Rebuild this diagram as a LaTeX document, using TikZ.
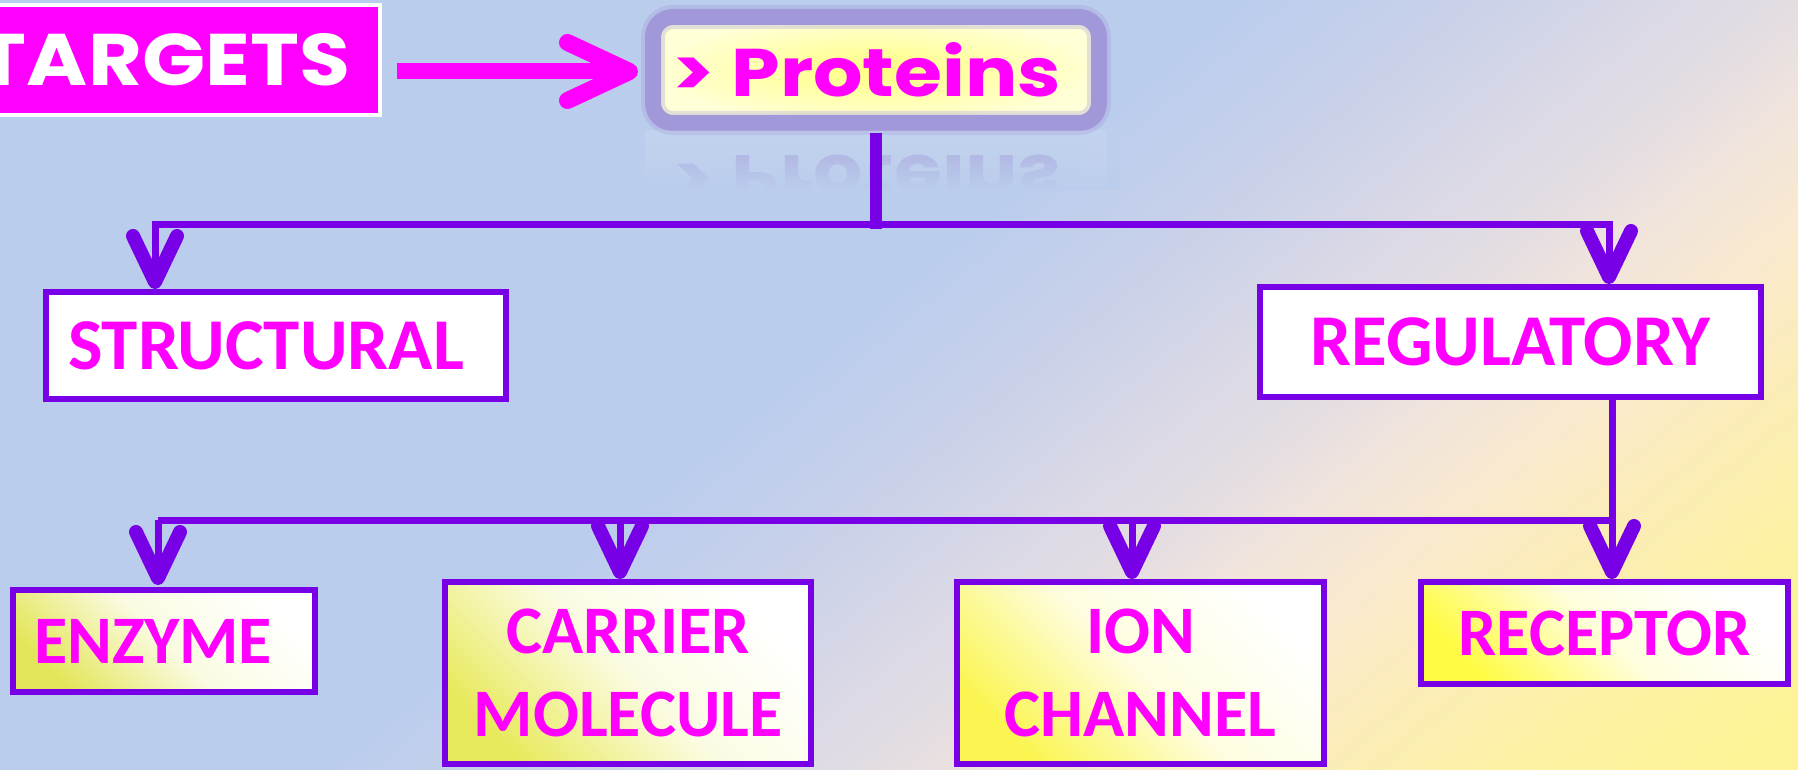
\documentclass[tikz,border=0pt]{standalone}
\usepackage{fontspec}
\usetikzlibrary{arrows.meta,fadings}
\newfontfamily\calib{Carlito}
\newfontfamily\deco{Poppins}
\definecolor{purp}{RGB}{119,0,230}
\definecolor{mag}{RGB}{255,0,255}
\definecolor{lav}{RGB}{160,152,216}
\definecolor{bgA}{RGB}{187,205,237}
\definecolor{bgB}{RGB}{201,209,233}
\definecolor{bgC}{RGB}{220,218,229}
\definecolor{bgD}{RGB}{228,221,226}
\definecolor{bgE}{RGB}{240,228,220}
\definecolor{bgF}{RGB}{249,233,208}
\definecolor{bgG}{RGB}{251,236,185}
\definecolor{bgH}{RGB}{252,240,164}
\definecolor{bgY}{RGB}{253,242,150}
\definecolor{ylwA}{RGB}{227,230,90}
\definecolor{ylwB}{RGB}{232,234,94}
\definecolor{ylwC}{RGB}{250,245,80}
\definecolor{ylwD}{RGB}{255,251,69}
\definecolor{pyIn}{RGB}{255,255,128}
\definecolor{pyOut}{RGB}{255,255,215}
\pgfdeclarehorizontalshading{bgshade}{100bp}{color(0bp)=(bgA); color(48bp)=(bgA); color(52bp)=(bgB); color(56bp)=(bgC); color(58bp)=(bgD); color(60bp)=(bgE); color(62.5bp)=(bgF); color(65.5bp)=(bgG); color(69bp)=(bgH); color(73bp)=(bgY); color(100bp)=(bgY)}
\tikzset{
  box/.style={draw=purp, line width=6.5pt, fill=white, outer sep=0pt, inner sep=0pt, text=mag, align=center},
  toptext/.style={font=\calib\bfseries\fontsize{73}{89}\selectfont},
  bottext/.style={font=\calib\bfseries\fontsize{68}{83}\selectfont},
  ybox/.style={box, bottom color=#1, top color=white, middle color=#1!18!white, shading angle=-45},
  conn/.style={draw=purp, line width=7pt},
  arr/.style={conn, -{Straight Barb[length=46pt, width=44pt, line width=14pt, round]}},
}
\begin{document}
\begin{tikzpicture}[x=1pt,y=-1pt]
\useasboundingbox (0,0) rectangle (1798,770);
% background
\begin{scope}
\clip (0,0) rectangle (1798,770);
\shade[shading=bgshade, shading angle=-50] (0,-514) rectangle (1798,1284);
\end{scope}

% TARGETS
\node[draw=white, line width=4pt, fill=mag, minimum width=432pt, minimum height=110pt,
      inner sep=0pt, outer sep=0pt, text=white] (targets) at (164,60)
      {\resizebox{372pt}{52pt}{\deco\bfseries TARGETS}};

% Proteins
\node[draw=lav, line width=16pt, rounded corners=20pt, inner color=pyIn, outer color=pyOut,
      minimum width=446pt, minimum height=106pt, inner sep=0pt, outer sep=0pt, text=mag]
      (proteins) at (876,70) {\resizebox{388pt}{54pt}{\deco\bfseries > Proteins}\hspace*{18pt}};
\draw[lav, line width=24pt, opacity=0.3, rounded corners=20pt]
      (proteins.south west) rectangle (proteins.north east);

% reflection
\begin{scope}
\clip (640,129) rectangle (1112,190);
\fill[white, opacity=0.1] (645,130) rectangle (1107,190);
\node[text=lav, text opacity=0.5, inner sep=0pt, outer sep=0pt, anchor=north] (refl) at (867,155)
      {\scalebox{1}[-1]{\resizebox{388pt}{54pt}{\deco\bfseries > Proteins}}};
\end{scope}
\fill[bgA, path fading=north] (630,146) rectangle (1120,190);

% boxes
\node[box, toptext, minimum width=460pt, minimum height=107pt] (structural) at (276,345.5) {STRUCTURAL\hspace*{20pt}};
\node[box, toptext, minimum width=501pt, minimum height=110pt] (regulatory) at (1510.5,342) {REGULATORY};
\node[ybox=ylwA, bottext, minimum width=302pt, minimum height=102pt] (enzyme) at (164,641) {ENZYME\hspace*{22pt}};
\node[ybox=ylwB, bottext, minimum width=366pt, minimum height=182pt] (carrier) at (628,673) {CARRIER\\MOLECULE};
\node[ybox=ylwC, bottext, minimum width=367pt, minimum height=182pt] (ion) at (1140.5,673) {ION\\CHANNEL};
\node[ybox=ylwD, bottext, minimum width=367pt, minimum height=102pt] (receptor) at (1604.5,633) {RECEPTOR};

% coordinates
\coordinate (stemend) at (876,229);
\coordinate (hub) at (876,224);
\coordinate (tl) at (155,224);
\coordinate (tr) at (1609,224);
\coordinate (br) at (1612,520);
\coordinate (bl) at (158,520);
\coordinate (bc) at (620,520);
\coordinate (bi) at (1132,520);

% connectors
\draw[mag, line width=16pt, shorten <=17pt, shorten >=15pt,
      -{Straight Barb[length=62pt, width=58pt, line width=17pt, round]}]
      ([yshift=-11.5pt]targets.east) -- ([yshift=-1.5pt]proteins.west);
\draw[conn, line width=12pt, shorten <=10pt] (proteins.south) -- (stemend);
\draw[arr, shorten >=3pt] (hub) -| (tl |- structural.north);
\draw[arr, shorten >=3pt] (hub) -| (tr |- regulatory.north);
\draw[conn] (regulatory.south -| br) -- (br);
\draw[conn] (br) -- (bl);
\draw[arr, shorten >=3pt] (br) -- (br |- receptor.north);
\draw[arr, shorten >=5pt] (bl) -- (bl |- enzyme.north);
\draw[arr, shorten >=3pt] (bc) -- (bc |- carrier.north);
\draw[arr, shorten >=3pt] (bi) -- (bi |- ion.north);
\end{tikzpicture}
\end{document}
